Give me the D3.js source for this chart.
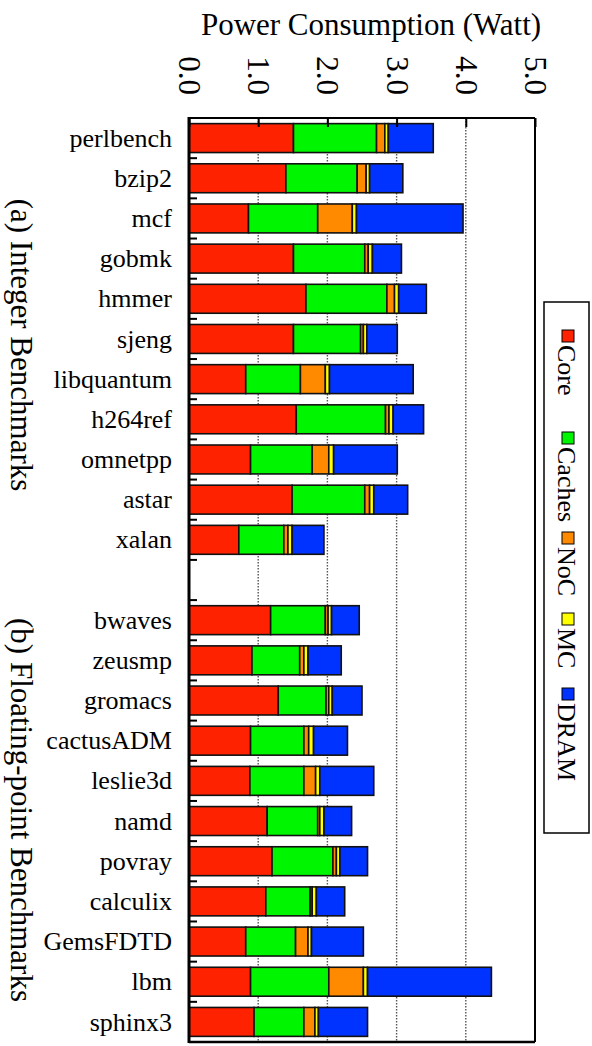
<!DOCTYPE html>
<html>
<head>
<meta charset="utf-8">
<script src="https://cdn.jsdelivr.net/npm/d3@7"></script>
<style>
  body { margin: 0; background: #fff; }
  text { font-family: "Liberation Serif", "Times New Roman", serif; fill: #000; }
</style>
</head>
<body>
<div id="chart"></div>
<script>
// benchmark names
const intBenchmarks = ["perlbench", "bzip2", "mcf", "gobmk", "hmmer", "sjeng", "libquantum", "h264ref", "omnetpp", "astar", "xalan"];
const fpBenchmarks = ["bwaves", "zeusmp", "gromacs", "cactusADM", "leslie3d", "namd", "povray", "calculix", "GemsFDTD", "lbm", "sphinx3"];

// power components (Watt), int benchmarks then fp benchmarks
const coreValues   = [1.51, 1.40, 0.86, 1.51, 1.69, 1.51, 0.82, 1.55, 0.89, 1.49, 0.72,
                      1.18, 0.91, 1.29, 0.89, 0.88, 1.13, 1.20, 1.11, 0.82, 0.89, 0.94];
const cachesValues = [1.20, 1.03, 1.00, 1.03, 1.17, 0.97, 0.79, 1.29, 0.89, 1.05, 0.65,
                      0.79, 0.69, 0.69, 0.77, 0.78, 0.73, 0.88, 0.64, 0.72, 1.13, 0.72];
const nocValues    = [0.12, 0.13, 0.50, 0.05, 0.11, 0.04, 0.36, 0.05, 0.24, 0.07, 0.06,
                      0.04, 0.06, 0.04, 0.07, 0.17, 0.03, 0.05, 0.03, 0.18, 0.50, 0.16];
const mcValues     = [0.05, 0.05, 0.06, 0.06, 0.06, 0.05, 0.06, 0.06, 0.07, 0.06, 0.06,
                      0.05, 0.06, 0.05, 0.07, 0.06, 0.06, 0.05, 0.06, 0.05, 0.06, 0.05];
const dramValues   = [0.65, 0.48, 1.54, 0.42, 0.40, 0.44, 1.21, 0.44, 0.92, 0.49, 0.46,
                      0.40, 0.48, 0.43, 0.49, 0.78, 0.40, 0.40, 0.41, 0.75, 1.79, 0.71];

const components = ["Core", "Caches", "NoC", "MC", "DRAM"];
const xTicks = [0, 1, 2, 3, 4, 5];
const groupLabels = ["(a) Integer Benchmarks", "(b) Floating-point Benchmarks"];
const axisTitle = "Power Consumption (Watt)";

const colors = ["#ff2200", "#00f500", "#ff8a00", "#ffff00", "#0033ff"];

const width = 592, height = 1046;
const plot = { left: 189, right: 535, top: 118, bottom: 1042 };

const svg = d3.select("#chart").append("svg")
    .attr("width", width)
    .attr("height", height);

// build rows
const allNames = intBenchmarks.concat(fpBenchmarks);
const rows = allNames.map((name, i) => ({
    name: name,
    Core: coreValues[i], Caches: cachesValues[i], NoC: nocValues[i], MC: mcValues[i], DRAM: dramValues[i]
}));

// slots: int, blank gap, fp
const slots = intBenchmarks.concat(["_gap"], fpBenchmarks);

const x = d3.scaleLinear().domain([0, 5]).range([plot.left, plot.right]);
const y = d3.scaleBand().domain(slots).range([plot.top, plot.bottom])
    .paddingInner(0.28).paddingOuter(0.14);

// gridlines
svg.append("g").selectAll("line")
    .data(xTicks.slice(1, -1))
    .join("line")
    .attr("x1", d => x(d)).attr("x2", d => x(d))
    .attr("y1", plot.top).attr("y2", plot.bottom)
    .attr("stroke", "#555")
    .attr("stroke-width", 1.4)
    .attr("stroke-dasharray", "1.5,1.5");

// stacked bars
const stack = d3.stack().keys(components);
const series = stack(rows);

svg.append("g").selectAll("g")
    .data(series)
    .join("g")
    .attr("fill", (d, i) => colors[i])
    .selectAll("rect")
    .data(d => d)
    .join("rect")
    .attr("x", d => x(d[0]))
    .attr("width", d => x(d[1]) - x(d[0]))
    .attr("y", d => y(d.data.name))
    .attr("height", y.bandwidth())
    .attr("stroke", "#111")
    .attr("stroke-width", 1.6);

// top axis
const topAxis = svg.append("g")
    .attr("transform", `translate(0,${plot.top})`)
    .call(d3.axisTop(x).tickValues(xTicks).tickFormat(d3.format(".1f")).tickSizeInner(-9).tickSizeOuter(0));
topAxis.select(".domain").remove();
topAxis.selectAll(".tick line").attr("stroke", "#000").attr("stroke-width", 2);
topAxis.selectAll(".tick text")
    .attr("y", null).attr("dy", null)
    .attr("transform", "translate(0,-23) rotate(90)")
    .attr("text-anchor", "end")
    .attr("dominant-baseline", "central")
    .style("font-size", "31px");

// left labels
const leftAxis = svg.append("g")
    .attr("transform", `translate(${plot.left},0)`)
    .call(d3.axisLeft(y).tickSize(0).tickPadding(17).tickFormat(d => d === "_gap" ? "" : d));
leftAxis.select(".domain").remove();
leftAxis.selectAll(".tick text").style("font-size", "26px").attr("dy", "0.33em");

// small ticks between slots
svg.append("g").selectAll("line")
    .data(d3.range(1, slots.length))
    .join("line")
    .attr("x1", plot.left).attr("x2", plot.left + 8)
    .attr("y1", k => plot.top + k * y.step())
    .attr("y2", k => plot.top + k * y.step())
    .attr("stroke", "#000")
    .attr("stroke-width", 2);

// frame
svg.append("line").attr("x1", plot.left).attr("x2", plot.right).attr("y1", plot.top).attr("y2", plot.top)
    .attr("stroke", "#000").attr("stroke-width", 2.2);
svg.append("line").attr("x1", plot.right).attr("x2", plot.right).attr("y1", plot.top).attr("y2", plot.bottom)
    .attr("stroke", "#000").attr("stroke-width", 2);
svg.append("line").attr("x1", plot.left).attr("x2", plot.right).attr("y1", plot.bottom).attr("y2", plot.bottom)
    .attr("stroke", "#000").attr("stroke-width", 2.6);
svg.append("line").attr("x1", plot.left).attr("x2", plot.left).attr("y1", plot.top - 1).attr("y2", plot.bottom + 1)
    .attr("stroke", "#000").attr("stroke-width", 3);

// axis title
svg.append("text")
    .attr("x", 371).attr("y", 35)
    .attr("text-anchor", "middle")
    .style("font-size", "31px")
    .text(axisTitle);

// group labels (rotated)
const groupCenters = [345, 810];
svg.append("g").selectAll("text")
    .data(groupLabels)
    .join("text")
    .attr("transform", (d, i) => `translate(4,${groupCenters[i]}) rotate(90)`)
    .attr("text-anchor", "middle")
    .attr("dy", "-0.22em")
    .style("font-size", "31px")
    .text(d => d);

// legend
const legend = svg.append("g");
legend.append("rect")
    .attr("x", 544).attr("y", 302)
    .attr("width", 45).attr("height", 531)
    .attr("fill", "#fff")
    .attr("stroke", "#000")
    .attr("stroke-width", 1.5);

const legendStarts = [330, 432, 532, 613, 688];
const items = legend.selectAll("g.item")
    .data(components)
    .join("g")
    .attr("class", "item")
    .attr("transform", (d, i) => `translate(0,${legendStarts[i]})`);
items.append("rect")
    .attr("x", 562).attr("y", 0)
    .attr("width", 12).attr("height", 12)
    .attr("fill", (d, i) => colors[i])
    .attr("stroke", "#000")
    .attr("stroke-width", 1);
items.append("text")
    .attr("transform", "translate(566,15) rotate(90)")
    .attr("dominant-baseline", "central")
    .style("font-size", "26px")
    .text(d => d);
</script>
</body>
</html>
